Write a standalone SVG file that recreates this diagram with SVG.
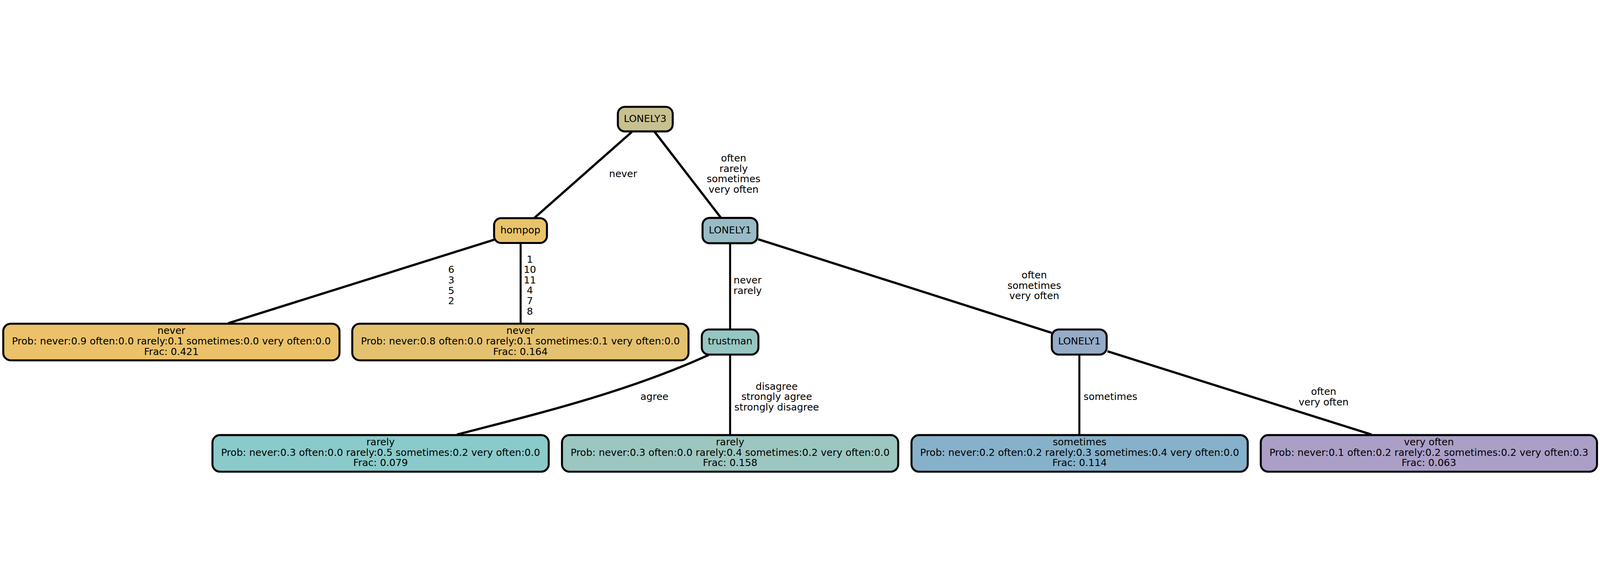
<svg xmlns="http://www.w3.org/2000/svg" width="6386" height="1481" viewBox="0 0 6386 1481">
<style>
svg{width:100vw;height:100vh}
text{font-family:"DejaVu Sans","Liberation Sans",sans-serif;font-size:39px;fill:#000;text-anchor:middle}
.n{stroke:#000;stroke-width:8}
.e{stroke:#000;stroke-width:9;fill:none}
.v{stroke:#000;stroke-width:8;fill:none}
</style>
<rect width="6386" height="1481" fill="#fff"/>
<g id="connectors">
<line class="e" x1="2522" y1="112" x2="2133" y2="455"/>
<line class="e" x1="2613" y1="112" x2="2877" y2="454"/>
<line class="e" x1="1972" y1="542" x2="911" y2="875"/>
<line class="v" x1="2078" y1="557" x2="2078" y2="875"/>
<line class="v" x1="2914" y1="558" x2="2914" y2="898"/>
<line class="e" x1="3026" y1="540" x2="4197" y2="913"/>
<path class="e" d="M2828,1002 C2500,1150 2150,1235 1824,1319"/>
<line class="v" x1="2914" y1="1002" x2="2914" y2="1319"/>
<line class="v" x1="4308" y1="1002" x2="4308" y2="1319"/>
<line class="e" x1="4420" y1="987" x2="5474" y2="1319"/>
<text x="2487" y="293">never</text>
<text x="2928"><tspan x="2928" y="230">often</tspan><tspan x="2928" y="271.5">rarely</tspan><tspan x="2928" y="313">sometimes</tspan><tspan x="2928" y="354.5">very often</tspan></text>
<text x="1801"><tspan x="1801" y="675">6</tspan><tspan x="1801" y="716.5">3</tspan><tspan x="1801" y="758">5</tspan><tspan x="1801" y="799.5">2</tspan></text>
<text x="2115"><tspan x="2115" y="633">1</tspan><tspan x="2115" y="674.5">10</tspan><tspan x="2115" y="716">11</tspan><tspan x="2115" y="757.5">4</tspan><tspan x="2115" y="799">7</tspan><tspan x="2115" y="840.5">8</tspan></text>
<text x="2984"><tspan x="2984" y="717">never</tspan><tspan x="2984" y="758.5">rarely</tspan></text>
<text x="4128"><tspan x="4128" y="696">often</tspan><tspan x="4128" y="737.5">sometimes</tspan><tspan x="4128" y="779">very often</tspan></text>
<text x="2612" y="1181">agree</text>
<text x="3100"><tspan x="3100" y="1140">disagree</tspan><tspan x="3100" y="1181.5">strongly agree</tspan><tspan x="3100" y="1223">strongly disagree</tspan></text>
<text x="4432" y="1181">sometimes</text>
<text x="5283"><tspan x="5283" y="1161">often</tspan><tspan x="5283" y="1202.5">very often</tspan></text>
</g>
<g id="node-LONELY3">
<rect class="n" x="2466" y="12" width="219" height="98" rx="28" fill="#c7c191"/>
<text x="2575" y="72">LONELY3</text>
</g>
<g id="node-hompop">
<rect class="n" x="1972" y="456" width="211" height="99" rx="28" fill="#e9c36b"/>
<text x="2077" y="517">hompop</text>
</g>
<g id="node-LONELY1-a">
<rect class="n" x="2804" y="455" width="219" height="101" rx="28" fill="#98bcc6"/>
<text x="2914" y="517">LONELY1</text>
</g>
<g id="node-trustman">
<rect class="n" x="2801" y="900" width="226" height="100" rx="28" fill="#96c6c2"/>
<text x="2914" y="960">trustman</text>
</g>
<g id="node-LONELY1-b">
<rect class="n" x="4198" y="900" width="219" height="100" rx="28" fill="#96abc8"/>
<text x="4308" y="960">LONELY1</text>
</g>
<g id="leaf-never-1">
<rect class="n" x="13" y="877" width="1342" height="146" rx="30" fill="#ebc26a"/>
<text x="684"><tspan x="684" y="918">never</tspan><tspan x="684" y="959.5">Prob: never:0.9 often:0.0 rarely:0.1 sometimes:0.0 very often:0.0</tspan><tspan x="684" y="1001">Frac: 0.421</tspan></text>
</g>
<g id="leaf-never-2">
<rect class="n" x="1406" y="877" width="1342" height="146" rx="30" fill="#e4c16f"/>
<text x="2077"><tspan x="2077" y="918">never</tspan><tspan x="2077" y="959.5">Prob: never:0.8 often:0.0 rarely:0.1 sometimes:0.1 very often:0.0</tspan><tspan x="2077" y="1001">Frac: 0.164</tspan></text>
</g>
<g id="leaf-rarely-1">
<rect class="n" x="848" y="1321" width="1342" height="146" rx="30" fill="#8acaca"/>
<text x="1519"><tspan x="1519" y="1362">rarely</tspan><tspan x="1519" y="1403.5">Prob: never:0.3 often:0.0 rarely:0.5 sometimes:0.2 very often:0.0</tspan><tspan x="1519" y="1445">Frac: 0.079</tspan></text>
</g>
<g id="leaf-rarely-2">
<rect class="n" x="2243" y="1321" width="1342" height="146" rx="30" fill="#9cc6c0"/>
<text x="2914"><tspan x="2914" y="1362">rarely</tspan><tspan x="2914" y="1403.5">Prob: never:0.3 often:0.0 rarely:0.4 sometimes:0.2 very often:0.0</tspan><tspan x="2914" y="1445">Frac: 0.158</tspan></text>
</g>
<g id="leaf-sometimes">
<rect class="n" x="3638" y="1321" width="1342" height="146" rx="30" fill="#86b1ca"/>
<text x="4309"><tspan x="4309" y="1362">sometimes</tspan><tspan x="4309" y="1403.5">Prob: never:0.2 often:0.2 rarely:0.3 sometimes:0.4 very often:0.0</tspan><tspan x="4309" y="1445">Frac: 0.114</tspan></text>
</g>
<g id="leaf-very-often">
<rect class="n" x="5032" y="1321" width="1342" height="146" rx="30" fill="#ab9fc7"/>
<text x="5703"><tspan x="5703" y="1362">very often</tspan><tspan x="5703" y="1403.5">Prob: never:0.1 often:0.2 rarely:0.2 sometimes:0.2 very often:0.3</tspan><tspan x="5703" y="1445">Frac: 0.063</tspan></text>
</g>
</svg>
